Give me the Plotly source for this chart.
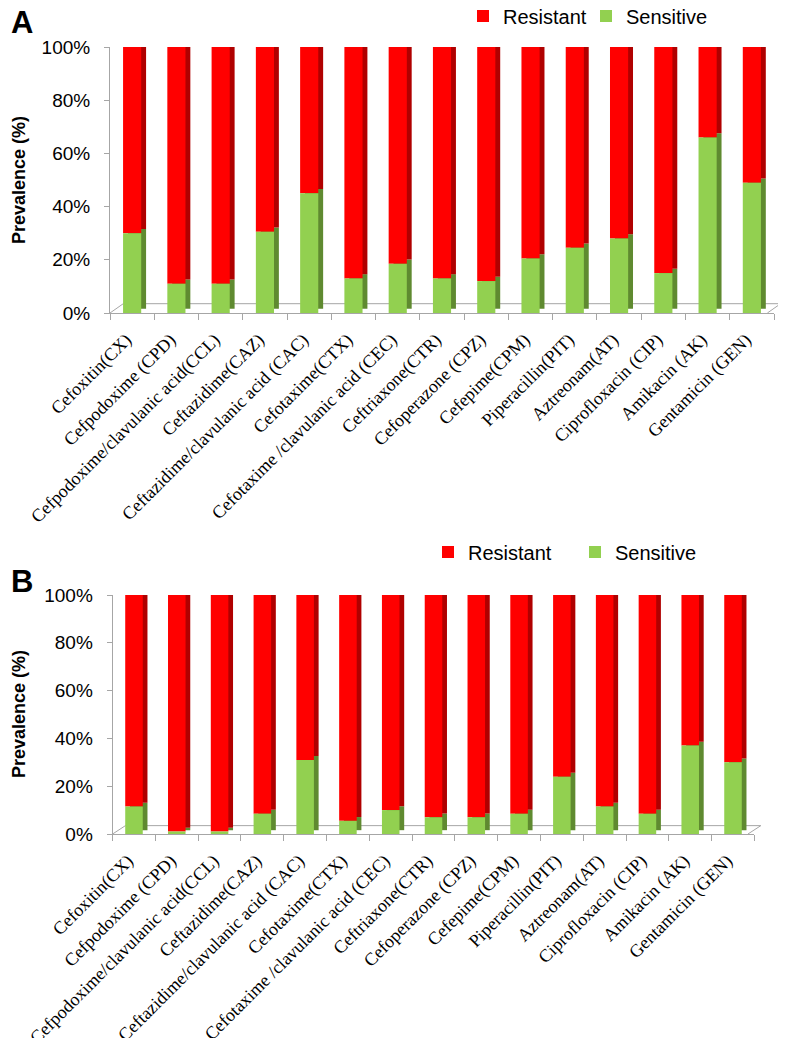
import plotly.graph_objects as go
from plotly.subplots import make_subplots

# Antibiotics tested
drugs = ['Cefoxitin(CX)', 'Cefpodoxime (CPD)', 'Cefpodoxime/clavulanic acid(CCL)',
         'Ceftazidime(CAZ)', 'Ceftazidime/clavulanic acid (CAC)', 'Cefotaxime(CTX)',
         'Cefotaxime /clavulanic acid (CEC)', 'Ceftriaxone(CTR)', 'Cefoperazone (CPZ)',
         'Cefepime(CPM)', 'Piperacillin(PIT)', 'Aztreonam(AT)', 'Ciprofloxacin (CIP)',
         'Amikacin (AK)', 'Gentamicin (GEN)']

# Panel A (%)
sensitive_a = [30, 11, 11, 30.5, 45, 13, 18.5, 13, 12, 20.5, 24.5, 28, 15, 66, 49]
resistant_a = [70, 89, 89, 69.5, 55, 87, 81.5, 87, 88, 79.5, 75.5, 72, 85, 34, 51]

# Panel B (%)
sensitive_b = [11.5, 1, 1, 8.5, 31, 5.5, 10, 7, 7, 8.5, 24, 11.5, 8.5, 37, 30]
resistant_b = [88.5, 99, 99, 91.5, 69, 94.5, 90, 93, 93, 91.5, 76, 88.5, 91.5, 63, 70]

yticks = [0, 20, 40, 60, 80, 100]
ytick_text = ['0%', '20%', '40%', '60%', '80%', '100%']

RED, RED_SIDE = '#FF0000', '#B00000'
GREEN, GREEN_SIDE = '#92D050', '#5F8A30'
W = 0.41      # bar width (category units)
DX = 0.11     # depth shift to the right
DY = 1.6      # depth shift upwards (%)

# page body has an 8px margin, so the figure is a bit smaller and shifted
OFF = 8
FIG_W, FIG_H = 786 - OFF, 1038 - OFF


def px(x):
    return (x - OFF) / FIG_W


def py(y):
    return 1 - (y - OFF) / FIG_H


fig = make_subplots(rows=2, cols=1)


def add_panel(sens, res, row, legend):
    res_base = list(sens)
    # fake 3D sides, drawn behind the front faces
    fig.add_trace(go.Bar(x=drugs, y=sens, base=[DY] * len(sens), width=W, offset=-W / 2 + DX,
                         marker=dict(color=GREEN_SIDE, line_width=0), showlegend=False,
                         hoverinfo='skip', cliponaxis=False), row=row, col=1)
    fig.add_trace(go.Bar(x=drugs, y=res, base=[b + DY for b in res_base], width=W,
                         offset=-W / 2 + DX, marker=dict(color=RED_SIDE, line_width=0),
                         showlegend=False, hoverinfo='skip', cliponaxis=False), row=row, col=1)
    # front faces
    fig.add_trace(go.Bar(x=drugs, y=res, base=res_base, width=W, offset=-W / 2, name='Resistant',
                         marker=dict(color=RED, line_width=0), legend=legend,
                         cliponaxis=False), row=row, col=1)
    fig.add_trace(go.Bar(x=drugs, y=sens, base=[0] * len(sens), width=W, offset=-W / 2,
                         name='Sensitive', marker=dict(color=GREEN, line_width=0),
                         legend=legend, cliponaxis=False), row=row, col=1)


add_panel(sensitive_a, resistant_a, 1, 'legend')
add_panel(sensitive_b, resistant_b, 2, 'legend2')

axis_common = dict(showline=True, linecolor='#A6A6A6', linewidth=1, showgrid=False,
                   zeroline=False, automargin=False)

fig.update_xaxes(**axis_common, ticks='outside', ticklen=6, tickcolor='#A6A6A6',
                 tickson='boundaries', tickangle=-45, ticklabelstandoff=8, ticklabelshift=-6,
                 tickfont=dict(family='Liberation Serif', size=18, color='black'))
fig.update_yaxes(**axis_common, ticks='outside', ticklen=5, tickcolor='#A6A6A6',
                 range=[0, 100], tickvals=yticks, ticktext=ytick_text, ticklabelstandoff=10,
                 tickfont=dict(family='Liberation Sans', size=19, color='black'))

fig.update_layout(
    xaxis=dict(domain=[px(110), px(774)]),
    xaxis2=dict(domain=[px(112.6), px(754.4)]),
    yaxis=dict(domain=[py(313), py(47)]),
    yaxis2=dict(domain=[py(834), py(595)]),
    barmode='overlay',
    width=FIG_W, height=FIG_H,
    margin=dict(l=0, r=0, t=0, b=0, autoexpand=False),
    plot_bgcolor='white', paper_bgcolor='white',
    font=dict(family='Liberation Sans', color='black'),
    legend=dict(orientation='h', x=px(463), y=py(16), xanchor='left', yanchor='middle',
                font=dict(size=20), entrywidth=78, itemwidth=30, bgcolor='rgba(0,0,0,0)'),
    legend2=dict(orientation='h', x=px(428), y=py(552), xanchor='left',
                 yanchor='middle', font=dict(size=20), entrywidth=102, itemwidth=30,
                 bgcolor='rgba(0,0,0,0)'),
    annotations=[
        dict(text='<b>A</b>', x=px(9), y=py(23), xref='paper', yref='paper',
             xanchor='left', yanchor='middle', showarrow=False, font=dict(size=31)),
        dict(text='<b>B</b>', x=px(9), y=py(581), xref='paper', yref='paper',
             xanchor='left', yanchor='middle', showarrow=False, font=dict(size=31)),
        dict(text='<b>Prevalence (%)</b>', x=px(19), y=py(180), xref='paper',
             yref='paper', textangle=-90, xanchor='center', yanchor='middle',
             showarrow=False, font=dict(size=18)),
        dict(text='<b>Prevalence (%)</b>', x=px(19), y=py(714), xref='paper',
             yref='paper', textangle=-90, xanchor='center', yanchor='middle',
             showarrow=False, font=dict(size=18)),
    ],
)

# 3D floor outline
for xr, yr in [('x domain', 'y'), ('x2 domain', 'y2')]:
    fig.add_shape(type='path', xref=xr, yref=yr,
                  path='M 0,0 L 0.02,3.5 L 1.01,3.5 L 0.99,0',
                  line=dict(color='#A6A6A6', width=1), layer='below')

fig.write_html('out.html')
